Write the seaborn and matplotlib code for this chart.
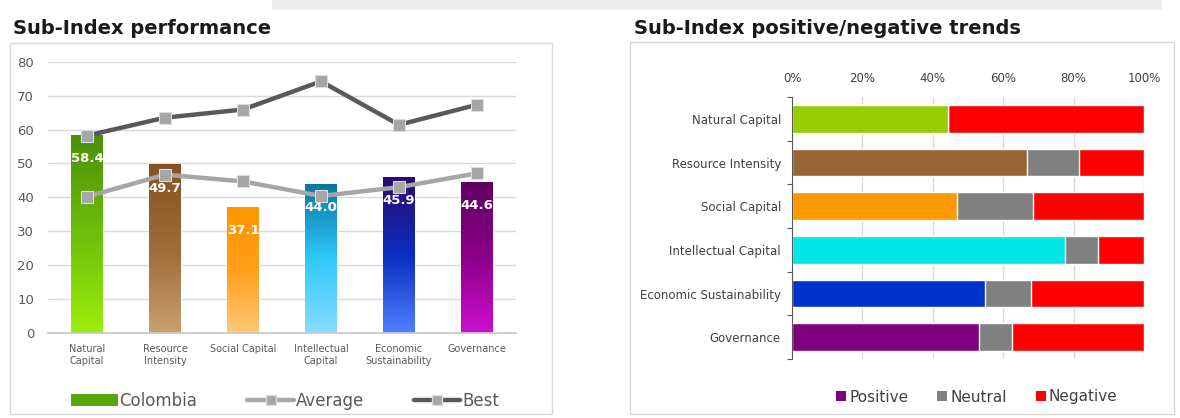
"""
Sub-Index performance (bars + lines) and Sub-Index positive/negative trends
(stacked horizontal bars), drawn side by side like the report slide.
"""

import matplotlib
matplotlib.use("Agg")

import matplotlib.pyplot as plt
import numpy as np
import seaborn as sns
from matplotlib.colors import LinearSegmentedColormap
from matplotlib.lines import Line2D
from matplotlib.patches import Patch, Rectangle


categories = [
    "Natural Capital",
    "Resource Intensity",
    "Social Capital",
    "Intellectual Capital",
    "Economic Sustainability",
    "Governance",
]
bar_tick_labels = [
    "Natural\nCapital",
    "Resource\nIntensity",
    "Social Capital",
    "Intellectual\nCapital",
    "Economic\nSustainability",
    "Governance",
]
colombia = [58.4, 49.7, 37.1, 44.0, 45.9, 44.6]
average = [40.2, 46.7, 44.7, 40.4, 43.0, 47.1]
best = [58.2, 63.5, 65.9, 74.2, 61.4, 67.3]

positive = [44.2, 66.7, 47.0, 77.6, 54.8, 53.0]
neutral = [0.0, 14.7, 21.6, 9.4, 13.0, 9.4]
negative = [55.8, 18.6, 31.4, 13.0, 32.2, 37.6]

# top -> bottom colours of each gradient bar
gradients = [
    ["#4a900a", "#6cbf0a", "#9cee0c"],
    ["#845222", "#a06a3a", "#caa070"],
    ["#ff9500", "#ffa01a", "#ffc878"],
    ["#0a74a0", "#30c8f8", "#88dcff"],
    ["#2c0a72", "#0a2ec0", "#5080ff"],
    ["#600060", "#8a008a", "#cc10cc"],
]
trend_colors = ["#99cc00", "#996633", "#ff9900", "#00e6e6", "#0033cc", "#800080"]

W, H = 1180, 418


def fx(px):
    return px / W


def fy(py):
    return (H - py) / H


sns.set_theme(style="white")
plt.rcParams["font.family"] = ["DejaVu Sans"]

fig = plt.figure(figsize=(W / 100, H / 100), dpi=100)
fig.patch.set_facecolor("white")

# faint slide strip at the very top
fig.patches.append(Rectangle((fx(272), fy(10)), fx(1162) - fx(272), fy(0) - fy(10),
                             transform=fig.transFigure, facecolor="#eeeeee",
                             edgecolor="none", zorder=0))

# panel frames
for x0, y0, x1, y1 in [(10, 43, 552, 414), (630, 42, 1174, 414)]:
    fig.patches.append(Rectangle((fx(x0), fy(y1)), fx(x1) - fx(x0), fy(y0) - fy(y1),
                                 transform=fig.transFigure, facecolor="none",
                                 edgecolor="#d9d9d9", linewidth=1, zorder=0))

fig.text(fx(13), fy(29), "Sub-Index performance", fontsize=14, fontweight="bold",
         color="#1a1a1a", va="center", ha="left")
fig.text(fx(634), fy(29), "Sub-Index positive/negative trends", fontsize=14,
         fontweight="bold", color="#1a1a1a", va="center", ha="left")

# ---------------- left: bars + lines ----------------
ax1 = fig.add_axes([fx(48), fy(333), fx(516) - fx(48), fy(61.7) - fy(333)])
sns.barplot(x=categories, y=colombia, hue=categories,
            palette=[g[0] for g in gradients], width=0.4, saturation=1,
            legend=False, ax=ax1, zorder=2)

for patch, cols in zip(ax1.patches, gradients):
    x0, w, h = patch.get_x(), patch.get_width(), patch.get_height()
    cmap = LinearSegmentedColormap.from_list("g", cols)
    grad = np.linspace(0, 1, 256).reshape(-1, 1)
    img = ax1.imshow(grad, cmap=cmap, extent=[x0, x0 + w, 0, h], origin="upper",
                     aspect="auto", zorder=2)
    img.set_clip_path(patch)

for i, v in enumerate(colombia):
    ax1.annotate(f"{v:.1f}", (i, v), xytext=(0, -17), textcoords="offset points",
                 ha="center", va="center", color="white", fontsize=9.5,
                 fontweight="bold", zorder=3)

sns.pointplot(x=categories, y=average, color="#a6a6a6", markers="s",
              errorbar=None, ax=ax1)
sns.pointplot(x=categories, y=best, color="#595959", markers="s",
              errorbar=None, ax=ax1)
for line in ax1.lines:
    line.set_linewidth(3.2)
    line.set_markersize(8)
    line.set_markerfacecolor("#a6a6a6")
    line.set_markeredgecolor("#dcdcdc")
    line.set_markeredgewidth(0.8)
    line.set_zorder(4)

ax1.set_xlim(-0.5, 5.5)
ax1.set_ylim(0, 80)
ax1.set_yticks(range(0, 81, 10))
ax1.set_xticks(range(len(categories)))
ax1.set_xticklabels(bar_tick_labels)
ax1.tick_params(axis="y", length=0, pad=10, labelsize=9.5, labelcolor="#595959")
ax1.tick_params(axis="x", length=0, pad=8, labelsize=7, labelcolor="#595959")
ax1.yaxis.grid(True, color="#d9d9d9", linewidth=1)
ax1.set_axisbelow(True)
for side in ["left", "right", "top"]:
    ax1.spines[side].set_visible(False)
ax1.spines["bottom"].set_color("#c8c8c8")
ax1.set_xlabel("")
ax1.set_ylabel("")

handles1 = [
    Patch(facecolor="#5aa60c", edgecolor="none"),
    Line2D([], [], color="#a6a6a6", linewidth=3.2, marker="s", markersize=7,
           markerfacecolor="#a6a6a6", markeredgecolor="#dcdcdc"),
    Line2D([], [], color="#595959", linewidth=3.2, marker="s", markersize=7,
           markerfacecolor="#a6a6a6", markeredgecolor="#dcdcdc"),
]
fig.legend(handles1, ["Colombia", "Average", "Best"], loc="center",
           bbox_to_anchor=(fx(285), fy(401)), ncol=3, frameon=False, fontsize=12,
           labelcolor="#595959", handlelength=2.8, handleheight=0.7,
           handletextpad=0.1, columnspacing=3.0)

# ---------------- right: stacked horizontal bars ----------------
ax2 = fig.add_axes([fx(792), fy(359), fx(1144) - fx(792), fy(97) - fy(359)])
cum_neutral = [p + n for p, n in zip(positive, neutral)]
cum_total = [c + n for c, n in zip(cum_neutral, negative)]

sns.barplot(x=cum_total, y=categories, color="#ff0000", saturation=1, width=0.64,
            orient="h", ax=ax2, zorder=2)
sns.barplot(x=cum_neutral, y=categories, color="#808080", saturation=1, width=0.64,
            orient="h", ax=ax2, zorder=2)
sns.barplot(x=positive, y=categories, hue=categories, palette=trend_colors,
            saturation=1, width=0.64, orient="h", legend=False, ax=ax2, zorder=2)

ax2.set_xlim(0, 100)
ax2.set_ylim(5.5, -0.5)
ax2.set_xticks(range(0, 101, 20))
ax2.set_xticklabels([f"{t}%" for t in range(0, 101, 20)])
ax2.xaxis.tick_top()
ax2.tick_params(axis="x", length=0, pad=9, labelsize=8.5, labelcolor="#404040")
ax2.set_yticks(range(len(categories)))
ax2.set_yticks(np.arange(-0.5, 6, 1), minor=True)
ax2.tick_params(axis="y", which="major", length=0, pad=8, labelsize=8.5,
                labelcolor="#404040")
ax2.tick_params(axis="y", which="minor", length=3.5, width=0.8, color="#595959",
                left=True)
ax2.xaxis.grid(True, color="#d9d9d9", linewidth=1)
ax2.set_axisbelow(True)
for side in ["right", "top", "bottom"]:
    ax2.spines[side].set_visible(False)
ax2.spines["left"].set_color("#595959")
ax2.spines["left"].set_linewidth(0.8)
ax2.set_xlabel("")
ax2.set_ylabel("")

handles2 = [Patch(facecolor=c, edgecolor="none") for c in ["#800080", "#808080", "#ff0000"]]
fig.legend(handles2, ["Positive", "Neutral", "Negative"], loc="center",
           bbox_to_anchor=(fx(977), fy(397)), ncol=3, frameon=False, fontsize=11,
           labelcolor="#404040", handlelength=0.65, handleheight=0.65,
           handletextpad=0.2, columnspacing=1.9)

fig.savefig("out.png", dpi=100, facecolor="white")
